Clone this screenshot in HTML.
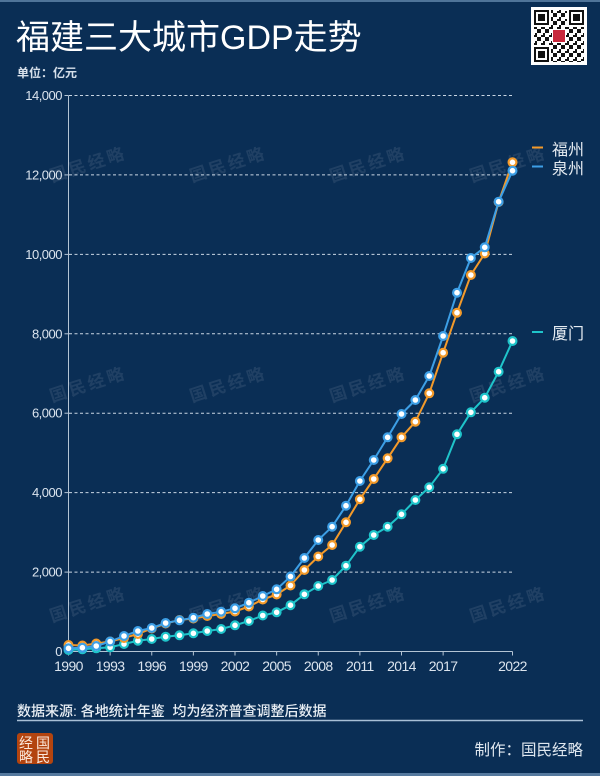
<!DOCTYPE html>
<html><head><meta charset="utf-8"><style>
html,body{margin:0;padding:0;background:#0a2e55;}
svg{display:block;}
text{font-family:"Liberation Sans","Noto Sans CJK SC",sans-serif;}
</style></head><body>
<svg width="600" height="776" viewBox="0 0 600 776" xmlns="http://www.w3.org/2000/svg">
<defs>
<marker id="mo" markerUnits="userSpaceOnUse" markerWidth="14" markerHeight="14" refX="7" refY="7"><circle cx="7" cy="7" r="3.9" fill="#fff" stroke="#f39a2a" stroke-width="2.2"/></marker>
<marker id="mb" markerUnits="userSpaceOnUse" markerWidth="14" markerHeight="14" refX="7" refY="7"><circle cx="7" cy="7" r="3.9" fill="#fff" stroke="#3d9fe6" stroke-width="2.2"/></marker>
<marker id="mc" markerUnits="userSpaceOnUse" markerWidth="14" markerHeight="14" refX="7" refY="7"><circle cx="7" cy="7" r="3.9" fill="#fff" stroke="#1fc4ca" stroke-width="2.2"/></marker>
<pattern id="qrp" patternUnits="userSpaceOnUse" width="8" height="8">
<rect x="0" y="0" width="2" height="2" fill="#111"/><rect x="4" y="2" width="2" height="2" fill="#111"/><rect x="2" y="4" width="4" height="2" fill="#111"/><rect x="6" y="6" width="2" height="2" fill="#111"/><rect x="0" y="6" width="2" height="2" fill="#111"/><rect x="6" y="0" width="2" height="2" fill="#111"/>
</pattern>
</defs>
<rect x="0" y="0" width="600" height="776" fill="#0a2e55"/>
<rect x="0" y="0" width="600" height="2" fill="#4f7499"/>
<rect x="0" y="773" width="600" height="3" fill="#55799e"/>

<text x="16" y="49" font-size="34" fill="#ffffff">福建三大城市GDP走势</text>
<text x="17" y="77" font-size="12" font-weight="bold" fill="#d7e0ea">单位：亿元</text>

<g transform="translate(531,7)">
<rect x="0" y="0" width="56" height="58" fill="#fff"/>
<rect x="3" y="3" width="50" height="52" fill="url(#qrp)"/>
<g>
<rect x="2" y="2" width="18" height="18" fill="#fff"/><rect x="3" y="3" width="15" height="15" fill="#111"/><rect x="5" y="5" width="11" height="11" fill="#fff"/><rect x="7" y="7" width="7" height="7" fill="#111"/>
<rect x="36" y="2" width="18" height="18" fill="#fff"/><rect x="38" y="3" width="15" height="15" fill="#111"/><rect x="40" y="5" width="11" height="11" fill="#fff"/><rect x="42" y="7" width="7" height="7" fill="#111"/>
<rect x="2" y="38" width="18" height="18" fill="#fff"/><rect x="3" y="40" width="15" height="15" fill="#111"/><rect x="5" y="42" width="11" height="11" fill="#fff"/><rect x="7" y="44" width="7" height="7" fill="#111"/>
</g>
<rect x="21" y="22" width="14" height="14" fill="#fff"/>
<rect x="22" y="23" width="12" height="12" fill="#c8283c"/>
</g>

<g font-size="17" fill="#ffffff" fill-opacity="0.09" font-weight="bold" text-anchor="middle" style="font-family:'Noto Serif CJK SC','Liberation Serif',serif;letter-spacing:3px">
<text transform="translate(90,170) rotate(-18)">国民经略</text>
<text transform="translate(230,170) rotate(-18)">国民经略</text>
<text transform="translate(370,170) rotate(-18)">国民经略</text>
<text transform="translate(510,170) rotate(-18)">国民经略</text>
<text transform="translate(90,390) rotate(-18)">国民经略</text>
<text transform="translate(230,390) rotate(-18)">国民经略</text>
<text transform="translate(370,390) rotate(-18)">国民经略</text>
<text transform="translate(510,390) rotate(-18)">国民经略</text>
<text transform="translate(90,610) rotate(-18)">国民经略</text>
<text transform="translate(230,610) rotate(-18)">国民经略</text>
<text transform="translate(370,610) rotate(-18)">国民经略</text>
<text transform="translate(510,610) rotate(-18)">国民经略</text>
</g>

<g stroke="#c9d6e3" stroke-width="1" stroke-dasharray="3 2.5" fill="none">
<line x1="69" y1="95.5" x2="512.5" y2="95.5"/>
<line x1="69" y1="174.9" x2="512.5" y2="174.9"/>
<line x1="69" y1="254.4" x2="512.5" y2="254.4"/>
<line x1="69" y1="333.8" x2="512.5" y2="333.8"/>
<line x1="69" y1="413.2" x2="512.5" y2="413.2"/>
<line x1="69" y1="492.6" x2="512.5" y2="492.6"/>
<line x1="69" y1="572.1" x2="512.5" y2="572.1"/>
</g>
<g stroke="#b4c4d4" stroke-width="1" fill="none">
<line x1="68.5" y1="95.5" x2="68.5" y2="651.5"/>
<line x1="68.5" y1="651.5" x2="512.5" y2="651.5"/>
<line x1="64.5" y1="95.5" x2="68.5" y2="95.5"/>
<line x1="64.5" y1="174.9" x2="68.5" y2="174.9"/>
<line x1="64.5" y1="254.4" x2="68.5" y2="254.4"/>
<line x1="64.5" y1="333.8" x2="68.5" y2="333.8"/>
<line x1="64.5" y1="413.2" x2="68.5" y2="413.2"/>
<line x1="64.5" y1="492.6" x2="68.5" y2="492.6"/>
<line x1="64.5" y1="572.1" x2="68.5" y2="572.1"/>
<line x1="64.5" y1="651.5" x2="68.5" y2="651.5"/>
<line x1="68.5" y1="651.5" x2="68.5" y2="655.5"/>
<line x1="110.13" y1="651.5" x2="110.13" y2="655.5"/>
<line x1="151.75" y1="651.5" x2="151.75" y2="655.5"/>
<line x1="193.38" y1="651.5" x2="193.38" y2="655.5"/>
<line x1="235" y1="651.5" x2="235" y2="655.5"/>
<line x1="276.63" y1="651.5" x2="276.63" y2="655.5"/>
<line x1="318.25" y1="651.5" x2="318.25" y2="655.5"/>
<line x1="359.88" y1="651.5" x2="359.88" y2="655.5"/>
<line x1="401.5" y1="651.5" x2="401.5" y2="655.5"/>
<line x1="443.13" y1="651.5" x2="443.13" y2="655.5"/>
<line x1="512.5" y1="651.5" x2="512.5" y2="655.5"/>
</g>
<g font-size="13" fill="#dbe4ee" text-anchor="end" style="letter-spacing:-0.5px">
<text x="62" y="100">14,000</text>
<text x="62" y="179.4">12,000</text>
<text x="62" y="258.9">10,000</text>
<text x="62" y="338.3">8,000</text>
<text x="62" y="417.7">6,000</text>
<text x="62" y="497.1">4,000</text>
<text x="62" y="576.6">2,000</text>
<text x="62" y="656">0</text>
</g>
<g font-size="14" fill="#dbe4ee" text-anchor="middle" style="letter-spacing:-0.6px">
<text x="68.5" y="671">1990</text>
<text x="110.13" y="671">1993</text>
<text x="151.75" y="671">1996</text>
<text x="193.38" y="671">1999</text>
<text x="235" y="671">2002</text>
<text x="276.63" y="671">2005</text>
<text x="318.25" y="671">2008</text>
<text x="359.88" y="671">2011</text>
<text x="401.5" y="671">2014</text>
<text x="443.13" y="671">2017</text>
<text x="512.5" y="671">2022</text>
</g>

<polyline fill="none" stroke="#1fc4ca" stroke-width="2" stroke-linejoin="round" marker-start="url(#mc)" marker-mid="url(#mc)" marker-end="url(#mc)" points="68.5,650 82.38,649.3 96.25,648.3 110.13,647.3 124,644 137.88,640.7 151.75,639 165.63,636.7 179.5,635.3 193.38,633.3 207.25,631 221.13,629 235,625.3 248.88,621 262.75,615.5 276.63,612.3 290.5,605.2 304.38,594.3 318.25,586 332.13,580 346,565.7 359.88,546.7 373.75,535 387.63,526.7 401.5,514.3 415.38,500 429.25,487.3 443.13,468.8 457,434.3 470.88,412.3 484.75,397.7 498.63,371.7 512.5,341"/>
<polyline fill="none" stroke="#f39a2a" stroke-width="2" stroke-linejoin="round" marker-start="url(#mo)" marker-mid="url(#mo)" marker-end="url(#mo)" points="68.5,645 82.38,645.5 96.25,643.5 110.13,641.5 124,638 137.88,634 151.75,628.5 165.63,623.5 179.5,620 193.38,618.5 207.25,616 221.13,614 235,611.5 248.88,606.5 262.75,599.5 276.63,594.5 290.5,585.5 304.38,570 318.25,556.5 332.13,545 346,522.3 359.88,499.3 373.75,479 387.63,458.3 401.5,437.3 415.38,421.7 429.25,393.3 443.13,352.7 457,312.7 470.88,275 484.75,253.5 498.63,202 512.5,162.3"/>
<polyline fill="none" stroke="#3d9fe6" stroke-width="2" stroke-linejoin="round" marker-start="url(#mb)" marker-mid="url(#mb)" marker-end="url(#mb)" points="68.5,648.3 82.38,647.7 96.25,646 110.13,641.5 124,636 137.88,631 151.75,628 165.63,623 179.5,620.3 193.38,617.7 207.25,614 221.13,611.7 235,608.3 248.88,602.7 262.75,596 276.63,589.3 290.5,576.5 304.38,558 318.25,540 332.13,526.7 346,505.7 359.88,481 373.75,460 387.63,437.3 401.5,414 415.38,400 429.25,376 443.13,336 457,292.7 470.88,258 484.75,247.3 498.63,201.7 512.5,170.7"/>

<line x1="532" y1="147.5" x2="543" y2="147.5" stroke="#f39a2a" stroke-width="2"/>
<line x1="532" y1="166.5" x2="543" y2="166.5" stroke="#3d9fe6" stroke-width="2"/>
<line x1="532" y1="332" x2="543" y2="332" stroke="#1fc4ca" stroke-width="2"/>
<g font-size="16" fill="#e6ecf2">
<text x="552" y="155">福州</text>
<text x="552" y="174">泉州</text>
<text x="552" y="339">厦门</text>
</g>

<text x="17" y="716" font-size="14" font-weight="500" fill="#e8eef4" style="white-space:pre" xml:space="preserve">数据来源: 各地统计年鉴  均为经济普查调整后数据</text>
<line x1="17" y1="720.5" x2="583" y2="720.5" stroke="#a8bfd6" stroke-width="1.5"/>
<rect x="17" y="733" width="36" height="31" rx="3" fill="#b3440f"/>
<g font-size="14" fill="#fbe9dc" style="font-family:'Noto Serif CJK SC','Liberation Serif',serif">
<text x="19" y="748">经</text>
<text x="36" y="748">国</text>
<text x="19" y="762">略</text>
<text x="36" y="762">民</text>
</g>
<text x="583" y="755" font-size="15.5" fill="#dfe7ef" text-anchor="end">制作：国民经略</text>
</svg>
</body></html>
